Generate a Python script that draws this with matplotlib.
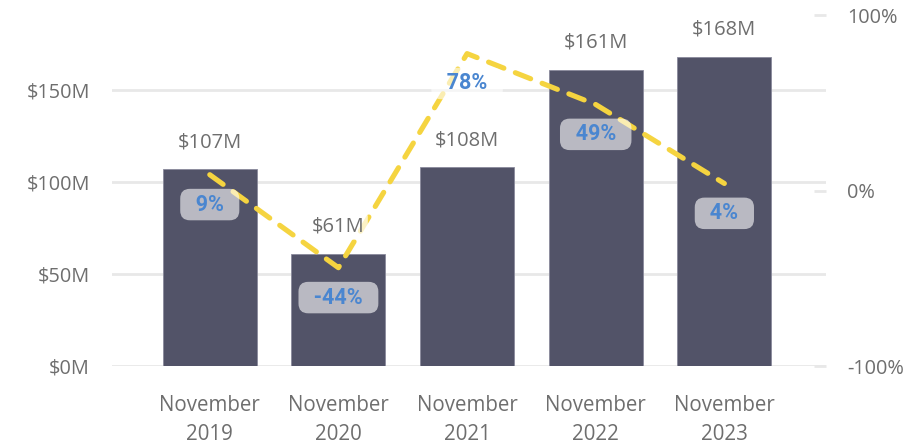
import matplotlib
matplotlib.use("Agg")
import matplotlib.pyplot as plt
import numpy as np

# data
months = ["November\n2019", "November\n2020", "November\n2021", "November\n2022", "November\n2023"]
revenue_m = [107, 61, 108, 161, 168]
growth_pct = [9, -44, 78, 49, 4]
left_ticks = [0, 50, 100, 150]
right_ticks = [-100, 0, 100]

BAR = "#525368"
LINE = "#F5D440"
GRID = "#e8e8e8"
TXT = "#6e6e6e"
BLUE = "#4a86d0"

plt.rcParams["font.family"] = ["Open Sans", "DejaVu Sans"]

fig = plt.figure(figsize=(9.22, 4.46), dpi=100)
ax = fig.add_axes([112 / 922, 1 - 366 / 446, (826 - 112) / 922, 351 / 446])
ax2 = ax.twinx()

x = np.arange(len(months))
ax.bar(x, revenue_m, width=0.73, color=BAR, edgecolor="#8a8a9c", linewidth=0.6, zorder=2)
ax.set_xlim(-0.76, len(months) - 1 + 0.79)
ax.set_ylim(0, 150 * 351 / 276)
ax.set_yticks(left_ticks)
ax.set_yticklabels([f"${v}M" for v in left_ticks])
ax.yaxis.grid(True, color=GRID, linewidth=2, zorder=0)
ax.set_axisbelow(True)
ax.tick_params(axis="y", length=0, pad=16, labelsize=14.3, labelcolor=TXT)
ax.set_xticks(x)
ax.set_xticklabels(months, linespacing=1.5)
ax.tick_params(axis="x", length=0, pad=21, labelsize=14.8, labelcolor=TXT)
for s in ax.spines.values():
    s.set_visible(False)

ax2.plot(x, growth_pct, color=LINE, linewidth=3.7, linestyle=(0, (3.2, 2.4)),
         dash_capstyle="round", zorder=2)
ax2.set_ylim(-100, 100)
ax2.set_yticks(right_ticks)
ax2.set_yticklabels([f"{v}%" for v in right_ticks])
ax2.tick_params(axis="y", direction="in", length=9, width=2, color=GRID, pad=15,
                labelsize=14.3, labelcolor=TXT)
for s in ax2.spines.values():
    s.set_visible(False)

# value labels above bars (drawn on ax2 so their boxes fade the line)
for xi, v in zip(x, revenue_m):
    ax2.annotate(f"${v}M", xy=(xi, v), xycoords=ax.transData, xytext=(0, 19.5),
                 textcoords="offset points", ha="center", va="center",
                 fontsize=14.5, color=TXT, zorder=3,
                 bbox=dict(boxstyle="round,pad=0.15", fc="white", ec="none", alpha=0.7))

# growth labels in rounded boxes
for xi, p in zip(x, growth_pct):
    ax2.annotate(f"  {p}%  ", xy=(xi, p), xytext=(0, -21.5), textcoords="offset points",
                 ha="center", va="center", fontsize=15.5, fontweight="bold",
                 family=["Roboto", "DejaVu Sans"], color=BLUE, zorder=4,
                 bbox=dict(boxstyle="round,pad=0.22,rounding_size=0.45", fc="white",
                           ec="none", alpha=0.6))

fig.savefig("out.png", dpi=100)
